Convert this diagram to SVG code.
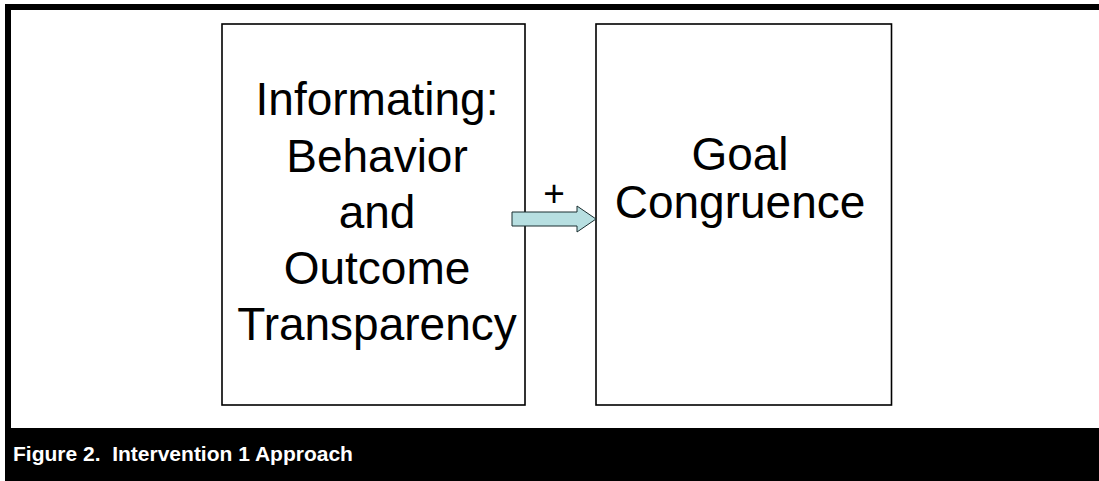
<svg xmlns="http://www.w3.org/2000/svg" width="1099" height="481" viewBox="0 0 1099 481">
<style>
.box{fill:#fff;stroke:#000;stroke-width:1.6}
.t{font-family:"Liberation Sans",Arial,sans-serif;font-size:46px;fill:#000;text-anchor:middle}
.cap{font-family:"Liberation Sans",Arial,sans-serif;font-size:21px;font-weight:bold;fill:#fff}
.arrow{fill:#b7dfe1;stroke:#1a2e30;stroke-width:1}
</style>
<rect x="0" y="0" width="1099" height="481" fill="#fff"/>
<g id="frame">
<rect x="5" y="4" width="1094" height="6" fill="#000"/>
<rect x="5" y="4" width="6" height="477" fill="#000"/>
<rect x="5" y="428" width="1094" height="53" fill="#000"/>
<text class="cap" x="13" y="461" xml:space="preserve">Figure 2.  Intervention 1 Approach</text>
</g>
<g id="node-informating">
<rect class="box" x="222" y="24" width="303" height="381"/>
<text class="t" x="377" y="115">Informating:</text>
<text class="t" x="377" y="171.5">Behavior</text>
<text class="t" x="377" y="228">and</text>
<text class="t" x="377" y="284">Outcome</text>
<text class="t" x="377" y="340">Transparency</text>
</g>
<g id="node-goal">
<rect class="box" x="596" y="24" width="295.5" height="381"/>
<text class="t" x="740" y="170">Goal</text>
<text class="t" x="740" y="218">Congruence</text>
</g>
<g id="connectors">
<path class="arrow" d="M512,212 L577,212 L577,206 L596,219 L577,232 L577,226 L512,226 Z"/>
<text class="t" x="554" y="206" style="font-size:37px">+</text>
</g>
</svg>
